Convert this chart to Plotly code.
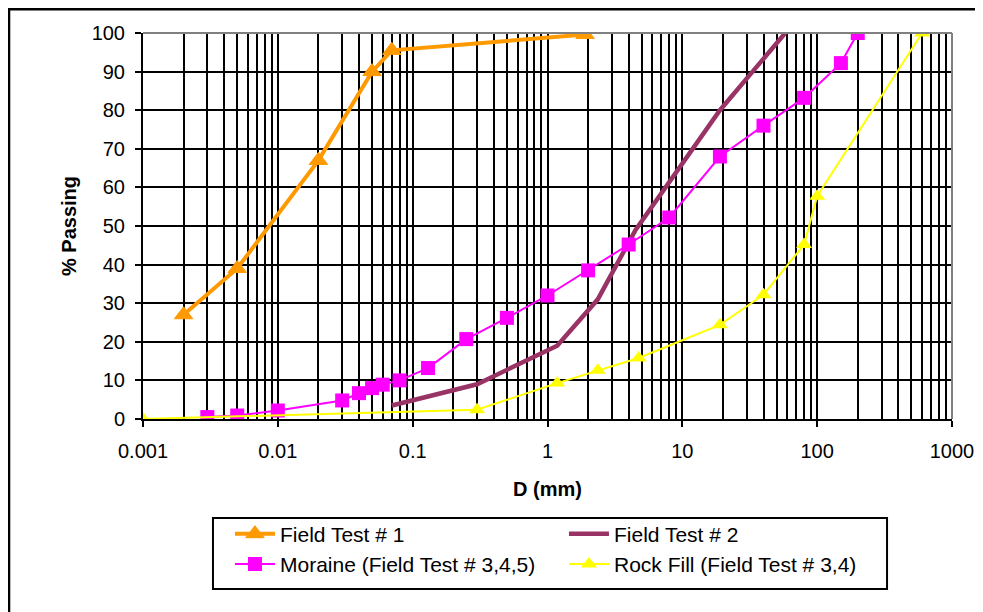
import plotly.graph_objects as go

# Field Test # 1
ft1_d = [0.002, 0.005, 0.02, 0.05, 0.07, 1.9]
ft1_p = [27, 39, 67, 90, 95.5, 99.6]

# Field Test # 2
ft2_d = [0.07, 0.3, 1.18, 2.36, 4.5, 19, 58]
ft2_p = [3.5, 9, 19, 31, 49, 80, 100]

# Moraine (Field Test # 3,4,5)
mor_d = [0.003, 0.005, 0.01, 0.03, 0.04, 0.05, 0.06, 0.08, 0.13, 0.25, 0.5, 1, 2, 4, 8, 19, 40, 80, 150, 200]
mor_p = [0.5, 0.9, 2.2, 4.8, 6.7, 8.0, 8.9, 10.0, 13.2, 20.7, 26.2, 32.0, 38.5, 45.2, 52.2, 68.0, 76.0, 83.2, 92.2, 100]

# Rock Fill (Field Test # 3,4)
rf_d = [0.001, 0.3, 1.18, 2.36, 4.75, 19, 40, 80, 100, 600]
rf_p = [0, 2.4, 9.3, 12.6, 15.8, 24.4, 32.2, 45.2, 57.7, 100]

x_ticks = [0.001, 0.01, 0.1, 1, 10, 100, 1000]
x_ticktext = ["0.001", "0.01", "0.1", "1", "10", "100", "1000"]
y_ticks = list(range(0, 101, 10))

FONT = "Liberation Sans, Arial, sans-serif"

fig = go.Figure()
fig.add_trace(go.Scatter(x=ft1_d, y=ft1_p, mode="lines+markers", name="Field Test # 1",
                         line=dict(color="#FF9900", width=4),
                         marker=dict(symbol="triangle-up", size=16, color="#FF9900",
                                     line=dict(color="#FF9900", width=1))))
fig.add_trace(go.Scatter(x=ft2_d, y=ft2_p, mode="lines", name="Field Test # 2",
                         line=dict(color="#993366", width=4.5)))
fig.add_trace(go.Scatter(x=mor_d, y=mor_p, mode="lines+markers", name="Moraine (Field Test # 3,4,5)",
                         line=dict(color="#FF00FF", width=2),
                         marker=dict(symbol="square", size=14, color="#FF00FF")))
fig.add_trace(go.Scatter(x=rf_d, y=rf_p, mode="lines+markers", name="Rock Fill (Field Test # 3,4)",
                         line=dict(color="#FFFF00", width=2),
                         marker=dict(symbol="triangle-up", size=14, color="#FFFF00")))

# gray border on top/right of plot area
fig.add_shape(type="line", xref="x domain", yref="y domain", x0=0, x1=1, y0=1, y1=1,
              line=dict(color="#808080", width=2), layer="above")
fig.add_shape(type="line", xref="x domain", yref="y domain", x0=1, x1=1, y0=0, y1=1,
              line=dict(color="#808080", width=2), layer="above")
# outer frame
fig.add_shape(type="rect", xref="paper", yref="paper", x0=-0.1656, x1=1.06, y0=-0.53, y1=1.0615,
              line=dict(color="black", width=2.5), fillcolor="rgba(0,0,0,0)", layer="above")
# legend frame
fig.add_shape(type="rect", xref="paper", yref="paper", x0=0.0865, x1=0.9197, y0=-0.4404, y1=-0.2565,
              line=dict(color="black", width=2), fillcolor="white", layer="below")

fig.update_layout(
    width=983, height=612,
    margin=dict(l=135, r=39, t=25, b=201),
    paper_bgcolor="white", plot_bgcolor="white",
    font=dict(family=FONT, size=20, color="black"),
    showlegend=True,
    legend=dict(orientation="h", x=0.1075, xanchor="left", y=-0.245, yanchor="top",
                borderwidth=0, bgcolor="rgba(0,0,0,0)",
                entrywidth=279, entrywidthmode="pixels",
                font=dict(family=FONT, size=21, color="black"),
                tracegroupgap=0, itemwidth=40),
)
fig.update_xaxes(type="log", range=[-3, 3], tickvals=x_ticks, ticktext=x_ticktext,
                 showline=True, linecolor="black", linewidth=2,
                 ticks="outside", ticklen=6, tickwidth=2, tickcolor="black",
                 ticklabelstandoff=7,
                 showgrid=True, gridcolor="black", gridwidth=2,
                 minor=dict(dtick="D1", showgrid=True, gridcolor="black", gridwidth=2, ticks=""),
                 title=dict(text="<b>D (mm)</b>", font=dict(size=20), standoff=21),
                 zeroline=False, tickfont=dict(size=20))
fig.update_yaxes(range=[0, 100], tickvals=y_ticks,
                 showline=True, linecolor="black", linewidth=2,
                 ticks="outside", ticklen=6, tickwidth=2, tickcolor="black",
                 ticklabelstandoff=6,
                 showgrid=True, gridcolor="black", gridwidth=2,
                 title=dict(text="<b>% Passing</b>", font=dict(size=20), standoff=10),
                 zeroline=False, tickfont=dict(size=20))

fig.write_html("out.html")
